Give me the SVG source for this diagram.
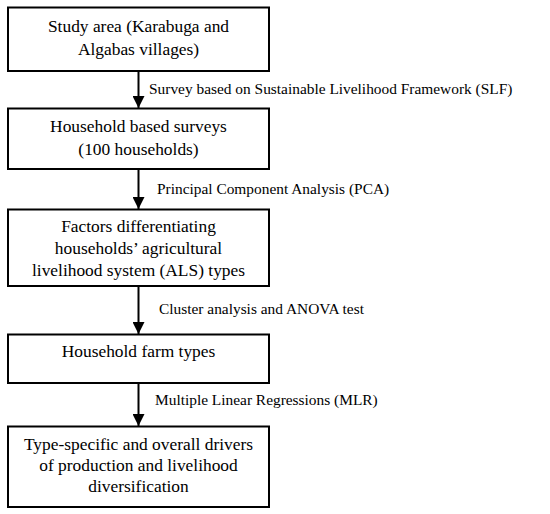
<svg xmlns="http://www.w3.org/2000/svg" width="550" height="514" viewBox="0 0 550 514">
<defs>
<style>
.box{fill:#fff;stroke:#000;stroke-width:2}
.c{stroke:#000;stroke-width:2;fill:none}
</style>
<marker id="ah" viewBox="0 0 10 10" refX="10" refY="5" markerWidth="6" markerHeight="6" markerUnits="strokeWidth" orient="auto">
<path d="M0,0 L10,5 L0,10 z" fill="#000"/>
</marker>
</defs>
<rect width="550" height="514" fill="#fff"/>
<g id="connectors" font-family="Liberation Serif, Times New Roman, DejaVu Serif, serif" font-size="15.4" fill="#000">
<line class="c" x1="138.5" y1="71" x2="138.5" y2="108" marker-end="url(#ah)"/>
<line class="c" x1="138.5" y1="169" x2="138.5" y2="209" marker-end="url(#ah)"/>
<line class="c" x1="138.5" y1="286" x2="138.5" y2="334" marker-end="url(#ah)"/>
<line class="c" x1="138.5" y1="383" x2="138.5" y2="426" marker-end="url(#ah)"/>
<text x="149" y="94">Survey based on Sustainable Livelihood Framework (SLF)</text>
<text x="157" y="194">Principal Component Analysis (PCA)</text>
<text x="159" y="314">Cluster analysis and ANOVA test</text>
<text x="155" y="405">Multiple Linear Regressions (MLR)</text>
</g>
<g font-family="Liberation Serif, Times New Roman, DejaVu Serif, serif" font-size="17.4" fill="#000" text-anchor="middle">
<g id="n1">
<rect class="box" x="8" y="7.5" width="261" height="63.5"/>
<text x="138.5" y="32">Study area (Karabuga and</text>
<text x="138.5" y="55">Algabas villages)</text>
</g>
<g id="n2">
<rect class="box" x="8" y="108.5" width="261" height="60.5"/>
<text x="138.5" y="132">Household based surveys</text>
<text x="138.5" y="155">(100 households)</text>
</g>
<g id="n3">
<rect class="box" x="8" y="209.5" width="261" height="76.5"/>
<text x="138.5" y="232">Factors differentiating</text>
<text x="138.5" y="254">households’ agricultural</text>
<text x="138.5" y="276">livelihood system (ALS) types</text>
</g>
<g id="n4">
<rect class="box" x="8" y="334.5" width="261" height="48.5"/>
<text x="138.5" y="357">Household farm types</text>
</g>
<g id="n5">
<rect class="box" x="8" y="426.5" width="261" height="80.5"/>
<text x="138.5" y="450">Type-specific and overall drivers</text>
<text x="138.5" y="471">of production and livelihood</text>
<text x="138.5" y="492">diversification</text>
</g>
</g>
</svg>
